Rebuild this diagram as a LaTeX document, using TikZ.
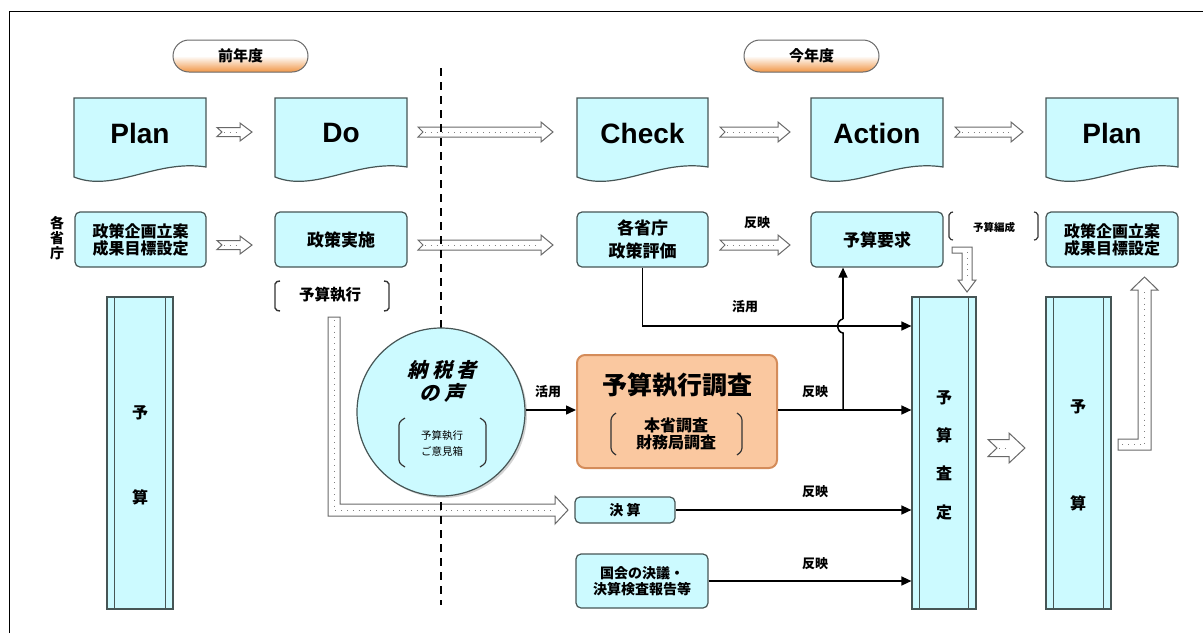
\documentclass[tikz,border=0pt]{standalone}
\usepackage{fontspec}
\setmainfont{Noto Sans CJK JP}
\newfontfamily\latf{Liberation Sans}
\newfontfamily\jpsl{Noto Sans CJK JP}[FakeSlant=0.25]
\usetikzlibrary{arrows.meta,shadows}
\definecolor{cyanf}{RGB}{204,250,255}
\definecolor{bordc}{RGB}{70,85,85}
\definecolor{orf}{RGB}{250,200,160}
\definecolor{orb}{RGB}{212,140,90}
\definecolor{pillor}{RGB}{240,150,70}
\definecolor{arrb}{RGB}{105,105,105}
\newcommand\HBlk[6]{%
 \draw[blk] (#1,#3-#4) -- (#2-#6,#3-#4) -- (#2-#6,#3-#5) -- (#2,#3) -- (#2-#6,#3+#5) -- (#2-#6,#3+#4) -- (#1,#3+#4) -- (#1+5,#3) -- cycle;
 \draw[dotl] (#1+7,#3) -- (#2-#6-1,#3);}
\newcommand\DocS[4]{%
 \draw[docsh] (#2,98) -- (#3,98) -- (#3,167) .. controls (#3-50,159) and (#2+40,193) .. (#2,177) -- cycle;
 \node[doct] (#1) at ({(#2+#3)/2},133) {#4};}
\tikzset{
 x=1pt,y=-1pt,
 docsh/.style={draw=bordc,fill=cyanf,line width=1.2pt},
 doct/.style={font=\latf\bfseries\fontsize{28}{28}\selectfont,inner sep=0},
 rbox/.style={draw=bordc,fill=cyanf,line width=1.2pt,rounded corners=5pt,inner sep=0,align=center,font=\bfseries\fontsize{16}{17}\selectfont},
 colbox/.style={draw=bordc,fill=cyanf,line width=1.2pt,inner sep=0,minimum height=312},
 colt/.style={font=\bfseries\fontsize{16}{16}\selectfont,inner sep=0},
 blk/.style={draw=arrb,fill=white,line width=1pt,line join=miter},
 dotl/.style={draw=gray,line width=0.7pt,dash pattern=on 0.8pt off 5pt},
 conn/.style={line width=1.5pt,-{Triangle[length=10pt,width=9pt]}},
 lbl/.style={font=\bfseries\fontsize{13}{13}\selectfont,inner sep=0},
 brk/.style={line width=1.4pt,rounded corners=2pt,draw=black!80},
 pill/.style={draw=arrb,line width=1pt,rounded corners=16pt,top color=white,bottom color=pillor,middle color=white,minimum width=135,minimum height=32,inner sep=0,font=\bfseries\fontsize{15}{15}\selectfont}
}
\begin{document}
\begin{tikzpicture}
\useasboundingbox (0,0) rectangle (1203,633);
% frame
\draw[line width=1pt] (9,633) -- (9,11) -- (1203,11);
% year pills
\node[pill] (prev) at (240.5,56) {前年度};
\node[pill] (curr) at (811.5,56) {今年度};
% document shapes
\DocS{plan1}{74}{206}{Plan}
\DocS{do}{275}{407}{Do}
\DocS{check}{577}{708}{Check}
\DocS{action}{811}{943}{Action}
\DocS{plan2}{1046}{1178}{Plan}
% row 1 arrows
\HBlk{217}{252}{132}{4.5}{9}{12}
\HBlk{418}{553}{132}{5}{10}{12}
\HBlk{720}{790}{132}{5}{10}{12}
\HBlk{955}{1023}{132}{5}{10}{12}
% row 2 boxes
\node[font=\bfseries\fontsize{14}{15}\selectfont,align=center,inner sep=0] (kakusho) at (57,238) {各\\省\\庁};
\node[rbox,minimum width=131,minimum height=55] (polA) at (140.5,239.5) {政策企画立案\\成果目標設定};
\node[rbox,minimum width=132,minimum height=55,font=\bfseries\fontsize{17}{17}\selectfont] (jisshi) at (341,239.5) {政策実施};
\node[rbox,minimum width=131,minimum height=55,font=\bfseries\fontsize{17}{23}\selectfont] (hyoka) at (642.5,239.5) {各省庁\\政策評価};
\node[rbox,minimum width=132,minimum height=55,font=\bfseries\fontsize{17}{17}\selectfont] (yokyu) at (877,239.5) {予算要求};
\node[rbox,minimum width=132,minimum height=55] (polB) at (1112,239.5) {政策企画立案\\成果目標設定};
% row 2 arrows
\HBlk{217}{252}{245}{4.5}{9}{12}
\HBlk{418}{553}{245}{5}{10}{12}
\HBlk{720}{790}{245}{5}{10}{12}
\node[lbl] (hanei0) at (757,223) {反映};
% brackets
\draw[brk] (280,281) -- (275,282) -- (275,310) -- (280,311);
\draw[brk] (384,281) -- (389,282) -- (389,310) -- (384,311);
\node[font=\bfseries\fontsize{15.5}{15.5}\selectfont,inner sep=0] (shikko) at (330,295) {予算執行};
\draw[brk,line width=1.2pt] (953,212) -- (949,213) -- (949,239) -- (953,240);
\draw[brk,line width=1.2pt] (1034,212) -- (1038,213) -- (1038,239) -- (1034,240);
\node[font=\bfseries\fontsize{10.5}{10.5}\selectfont,inner sep=0] (hensei) at (994,227) {予算編成};
% L arrow down (hensei)
\draw[blk] (952,247) -- (972,247) -- (972,280) -- (976,280) -- (967,292) -- (958,280) -- (962,280) -- (962,253) -- (952,253) -- cycle;
\draw[dotl] (967,252) -- (967,279);
% columns
\node[colbox,minimum width=66] (yosL) at (140,453) {};
\node[colbox,minimum width=64] (satei) at (944,453) {};
\node[colbox,minimum width=65] (yosR) at (1078.5,453) {};
\foreach \n in {yosL,satei,yosR}{
 \draw[bordc,line width=1pt] ([xshift=8pt]\n.north west) -- ([xshift=8pt]\n.south west);
 \draw[bordc,line width=1pt] ([xshift=-8pt]\n.north east) -- ([xshift=-8pt]\n.south east);
}
\node[colt] (yl1) at (140,413) {予};
\node[colt] (yl2) at (140,497) {算};
\node[colt] (s1) at (944,398) {予};
\node[colt] (s2) at (944,435) {算};
\node[colt] (s3) at (944,473) {査};
\node[colt] (s4) at (944,512) {定};
\node[colt] (yr1) at (1078,407) {予};
\node[colt] (yr2) at (1078,503) {算};
% L arrow up (right)
\draw[blk] (1118,439) -- (1138,439) -- (1138,290) -- (1131,290) -- (1144.5,277) -- (1158,290) -- (1151,290) -- (1151,450) -- (1118,450) -- cycle;
\draw[dotl] (1144.5,292) -- (1144.5,444.5) -- (1121,444.5);
% big arrow between satei and yosR
\draw[blk] (988,439.5) -- (1009,439.5) -- (1009,433) -- (1025,448) -- (1009,463) -- (1009,456.5) -- (988,456.5) -- (997,448) -- cycle;
\draw[dotl] (999,448) -- (1007,448);
% execution L arrow
\draw[blk] (328,317) -- (340,317) -- (340,504) -- (555,504) -- (555,496) -- (568,510) -- (555,524) -- (555,516) -- (328,516) -- cycle;
\draw[dotl] (334,320) -- (334,510) -- (553,510);
% dashed divider
\draw[line width=2.5pt,dash pattern=on 8pt off 6pt] (441,68) -- (441,605);
% circle
\node[circle,draw=bordc,fill=cyanf,line width=1.2pt,minimum size=168,inner sep=0,
      drop shadow={shadow xshift=2pt,shadow yshift=-2pt,opacity=0.35}] (circ) at (441,412) {};
\node[font=\jpsl\bfseries\fontsize{20}{20}\selectfont,inner sep=0] (nozei) at (442,370) {納 税 者};
\node[font=\jpsl\bfseries\fontsize{20}{20}\selectfont,inner sep=0] (koe) at (442,393) {の 声};
\draw[brk,rounded corners=3pt,line width=1.2pt] (405,418) -- (399,422) -- (399,463) -- (405,467);
\draw[brk,rounded corners=3pt,line width=1.2pt] (480,418) -- (486,422) -- (486,463) -- (480,467);
\node[font=\fontsize{10.5}{16}\selectfont,align=center,inner sep=0] (goiken) at (442,443) {予算執行\\ご意見箱};
% orange box
\node[draw=orb,fill=orf,rounded corners=8pt,line width=2pt,minimum width=200,minimum height=113,inner sep=0] (chosa) at (677,411.5) {};
\node[font=\bfseries\fontsize{25}{25}\selectfont,inner sep=0] (chosat) at (677,385) {予算執行調査};
\draw[brk,rounded corners=3pt,line width=1.2pt] (616,413) -- (611,417) -- (611,451) -- (616,455);
\draw[brk,rounded corners=3pt,line width=1.2pt] (737,413) -- (742,417) -- (742,451) -- (737,455);
\node[font=\bfseries\fontsize{16}{17}\selectfont,align=center,inner sep=0] (honsho) at (676,434) {本省調査\\財務局調査};
% kessan and kokkai
\node[rbox,minimum width=100,minimum height=26,font=\bfseries\fontsize{14}{14}\selectfont] (kessan) at (625,510) {決 算};
\node[rbox,minimum width=132,minimum height=54,font=\bfseries\fontsize{14}{16}\selectfont] (kokkai) at (642,581) {国会の決議・\\決算検査報告等};
% connectors
\draw[conn] (circ.east |- 0,410) -- (chosa.west |- 0,410);
\node[lbl] (katsu1) at (548,392) {活用};
\draw[conn] (chosa.east |- 0,410) -- (satei.west |- 0,410);
\node[lbl] (hanei1) at (815,392) {反映};
\coordinate (j) at (843,410);
\draw[conn] (hyoka.south) -- (hyoka.south |- 0,326) -- (satei.west |- 0,326);
\node[lbl] (katsu2) at (745,307) {活用};
\draw[line width=1.5pt] (j) -- (843,333) .. controls (836,332) and (836,320) .. (843,319);
\draw[conn] (843,319) -- (j |- yokyu.south);
\draw[conn] (kessan.east) -- (kessan.east -| satei.west);
\node[lbl] (hanei2) at (815,492) {反映};
\draw[conn] (kokkai.east) -- (kokkai.east -| satei.west);
\node[lbl] (hanei3) at (815,564) {反映};
\end{tikzpicture}
\end{document}
